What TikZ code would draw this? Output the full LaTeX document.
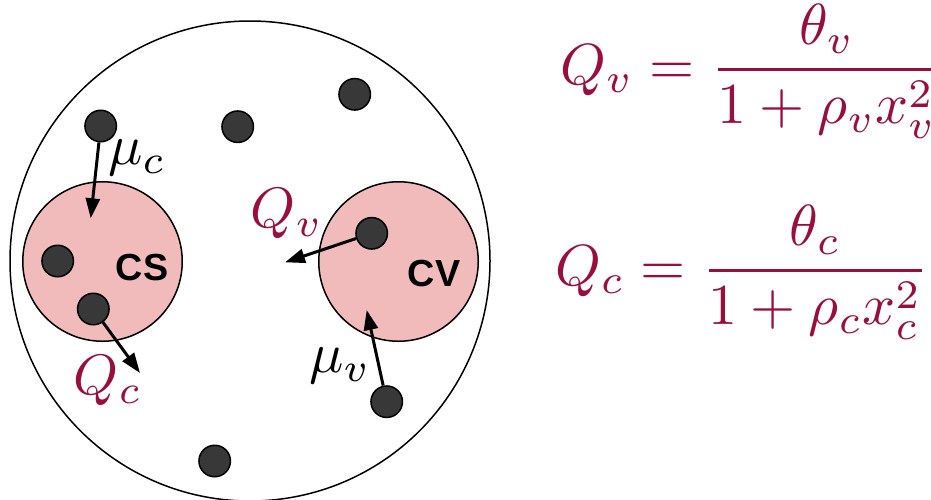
\documentclass[tikz,border=0pt]{standalone}
\usepackage{graphicx}
\usepackage{fontspec}
\newfontfamily\regionfont{Liberation Sans}
\usetikzlibrary{arrows.meta}
\definecolor{eqred}{RGB}{153,15,60}
\definecolor{cellpink}{RGB}{242,187,187}
\definecolor{dotgray}{RGB}{56,56,56}
\newcommand{\bigmath}[2][5.7]{\scalebox{#1}{$#2$}}

\begin{document}
\begin{tikzpicture}[x=1pt, y=-1pt, >={Triangle[length=20pt, width=14pt]},
    dot/.style={circle, draw, line width=1.5pt, fill=dotgray, minimum size=31.5pt, inner sep=0pt},
    region/.style={circle, draw, line width=1.5pt, fill=cellpink, minimum size=159.5pt, inner sep=0pt},
    flow/.style={->, line width=3pt},
    mathlbl/.style={inner sep=0pt},
    regionlbl/.style={font=\regionfont\bfseries\fontsize{37.7}{40}\selectfont, inner sep=0pt}]
    \useasboundingbox (0,0) rectangle (931,499);

    % outer population
    \node[circle, draw, line width=1.5pt, minimum size=480pt, inner sep=0pt] (world) at (250,261) {};

    % the two regions
    \node[region] (cs) at (102.5,261.5) {};
    \node[region] (cv) at (398.5,261.5) {};
    \node[regionlbl] (cslbl) at (142,267.5) {CS};
    \node[regionlbl] (cvlbl) at (434,274) {CV};

    % individuals
    \node[dot] (d1) at (100.7,126) {};
    \node[dot] (d2) at (237.7,126.7) {};
    \node[dot] (d3) at (354.7,94.3) {};
    \node[dot] (d4) at (57.7,261) {};
    \node[dot] (d5) at (93.3,309) {};
    \node[dot] (d6) at (371.7,233.3) {};
    \node[dot] (d7) at (386.7,401.7) {};
    \node[dot] (d8) at (214.7,461) {};

    % moves
    \coordinate (tipmuc) at (90.7,218.3);
    \coordinate (tipqc) at (140,373);
    \coordinate (tipqv) at (285,262.3);
    \coordinate (tipmuv) at (366.7,310);
    \draw[flow] (d1) -- (tipmuc);
    \draw[flow] (d5) -- (tipqc);
    \draw[flow] (d6) -- (tipqv);
    \draw[flow] (d7) -- (tipmuv);

    \node[mathlbl] (muc) at (137,158) {\bigmath{\mu_c}};
    \node[mathlbl, text=eqred] (qc) at (108,381) {\bigmath{Q_c}};
    \node[mathlbl, text=eqred] (qv) at (287,214) {\bigmath{Q_v}};
    \node[mathlbl] (muv) at (340,366) {\bigmath{\mu_v}};

    % rates
    \node[mathlbl, text=eqred, anchor=base west] (eqv) at (560,84)
        {\bigmath[5.8]{\displaystyle Q_v = \frac{\theta_v}{1+\rho_v x_v^2}}};
    \node[mathlbl, text=eqred, anchor=base west] (eqc) at (555,285)
        {\bigmath[5.8]{\displaystyle Q_c = \frac{\theta_c}{1+\rho_c x_c^2}}};
\end{tikzpicture}
\end{document}
